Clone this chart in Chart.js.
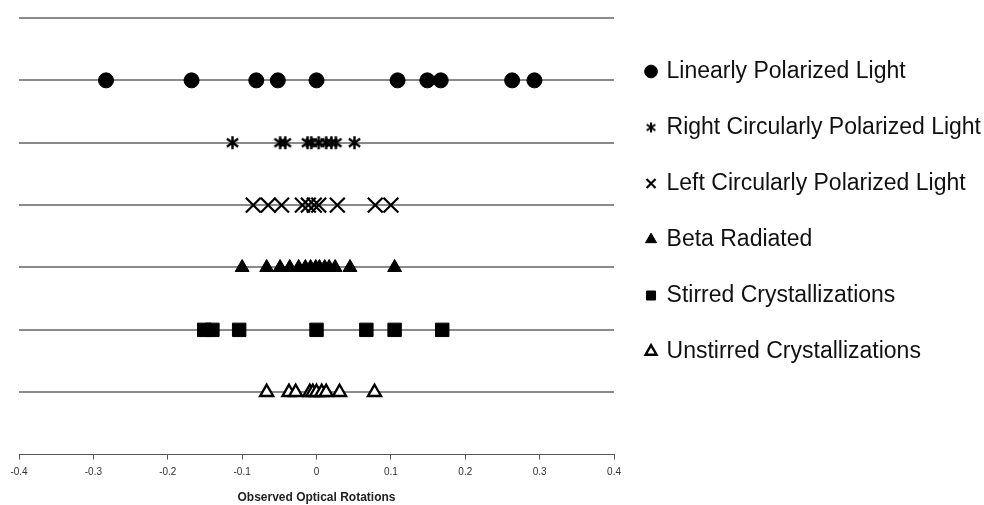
<!DOCTYPE html>
<html>
<head>
<meta charset="utf-8">
<script src="https://cdn.jsdelivr.net/npm/chart.js@4.4.1/dist/chart.umd.min.js"></script>
<style>
    html, body { margin: 0; padding: 0; background: #fff; }
    #wrap { width: 984px; height: 505px; position: relative; overflow: hidden; }
</style>
</head>
<body>
<div id="wrap"><canvas id="rotChart"></canvas></div>
<script>
// observed optical rotations per sample group
const groupNames = [
    "Linearly Polarized Light",
    "Right Circularly Polarized Light",
    "Left Circularly Polarized Light",
    "Beta Radiated",
    "Stirred Crystallizations",
    "Unstirred Crystallizations"
];
const groupRows = [6, 5, 4, 3, 2, 1];

const linearLight = [-0.283, -0.168, -0.081, -0.052, 0, 0.109, 0.149, 0.167, 0.263, 0.293];
const rightCircular = [-0.113, -0.049, -0.042, -0.012, -0.007, 0.003, 0.013, 0.020, 0.026, 0.051];
const leftCircular = [-0.085, -0.065, -0.047, -0.019, -0.011, -0.003, 0.003, 0.028, 0.079, 0.100];
const betaRadiated = [-0.100, -0.067, -0.049, -0.036, -0.024, -0.015, -0.008, -0.001, 0.004, 0.011, 0.017, 0.025, 0.045, 0.105];
const stirredCryst = [-0.151, -0.140, -0.104, 0, 0.067, 0.105, 0.169];
const unstirredCryst = [-0.067, -0.037, -0.028, -0.009, -0.005, 0, 0.007, 0.013, 0.031, 0.078];

const xTicks = [-0.4, -0.3, -0.2, -0.1, 0, 0.1, 0.2, 0.3, 0.4];

Chart.defaults.font.family = "'Liberation Sans', Arial, sans-serif";
Chart.defaults.color = "#222";

// six-armed asterisk marker (vertical bar + x)
function makeAsterisk(size, lw) {
    const c = document.createElement("canvas");
    c.width = size; c.height = size;
    const g = c.getContext("2d");
    g.strokeStyle = "#000";
    g.lineWidth = lw;
    const m = size / 2, r = size / 2 - 1;
    g.beginPath();
    g.moveTo(m, m - r); g.lineTo(m, m + r);
    g.moveTo(m - r * 0.87, m - r * 0.6); g.lineTo(m + r * 0.87, m + r * 0.6);
    g.moveTo(m - r * 0.87, m + r * 0.6); g.lineTo(m + r * 0.87, m - r * 0.6);
    g.stroke();
    return c;
}
const asteriskBig = makeAsterisk(15, 2.4);
const asteriskSmall = makeAsterisk(12, 2);

function toPoints(values, row) {
    return values.map(v => ({ x: v, y: row }));
}

const seriesValues = [linearLight, rightCircular, leftCircular, betaRadiated, stirredCryst, unstirredCryst];
const markerStyles = ["circle", asteriskBig, "crossRot", "triangle", "rect", "triangle"];
const markerSizes = [7.5, 7, 10.5, 8, 9.5, 7.5];
const markerFills = ["#000", "#000", "#000", "#000", "#000", "#fff"];
const markerBorders = [1, 1, 2.2, 1, 1, 2.4];

const datasets = groupNames.map((name, i) => ({
    label: name,
    data: toPoints(seriesValues[i], groupRows[i]),
    pointStyle: markerStyles[i],
    pointRadius: markerSizes[i],
    pointHoverRadius: markerSizes[i],
    backgroundColor: markerFills[i],
    borderColor: "#000",
    borderWidth: markerBorders[i],
    showLine: false
}));

// horizontal row lines, taken from the y scale's ticks
const rowLines = {
    id: "rowLines",
    beforeDatasetsDraw(chart) {
        const { ctx, chartArea, scales } = chart;
        const y = scales.y;
        ctx.save();
        ctx.strokeStyle = "#8a8a8a";
        ctx.lineWidth = 2;
        y.ticks.forEach(t => {
            if (t.value === y.min) return;
            const py = Math.round(y.getPixelForValue(t.value));
            ctx.beginPath();
            ctx.moveTo(chartArea.left, py);
            ctx.lineTo(chartArea.right, py);
            ctx.stroke();
        });
        ctx.restore();
    }
};

const ctx = document.getElementById("rotChart").getContext("2d");

new Chart(ctx, {
    type: "scatter",
    data: { datasets: datasets },
    plugins: [rowLines],
    options: {
        responsive: true,
        maintainAspectRatio: false,
        animation: false,
        layout: {
            padding: { left: 19, right: -7, top: 18, bottom: 0 }
        },
        scales: {
            x: {
                type: "linear",
                min: -0.4,
                max: 0.4,
                afterBuildTicks: axis => {
                    axis.ticks = xTicks.map(v => ({ value: v }));
                },
                ticks: {
                    font: { size: 10 },
                    color: "#333",
                    padding: 7,
                    maxRotation: 0,
                    callback: v => (Math.round(v * 10) / 10).toString()
                },
                grid: {
                    drawOnChartArea: false,
                    drawTicks: true,
                    tickLength: 5,
                    color: "#555"
                },
                border: { display: true, color: "#555", width: 1 },
                title: {
                    display: true,
                    text: "Observed Optical Rotations",
                    font: { size: 12, weight: "bold" },
                    color: "#222",
                    padding: { top: 5, bottom: 0 }
                }
            },
            y: {
                type: "linear",
                display: false,
                min: 0,
                max: 7,
                ticks: { stepSize: 1 }
            }
        },
        plugins: {
            tooltip: { enabled: false },
            legend: {
                position: "right",
                align: "start",
                title: {
                    display: true,
                    text: "",
                    font: { size: 5 },
                    padding: { top: 3, bottom: 0 }
                },
                labels: {
                    usePointStyle: true,
                    boxWidth: 8,
                    boxHeight: 9,
                    padding: 33,
                    color: "#111",
                    font: { size: 23 },
                    generateLabels: chart => {
                        const items = Chart.defaults.plugins.legend.labels.generateLabels(chart);
                        items[1].pointStyle = asteriskSmall;
                        return items;
                    }
                }
            }
        }
    }
});
</script>
</body>
</html>
